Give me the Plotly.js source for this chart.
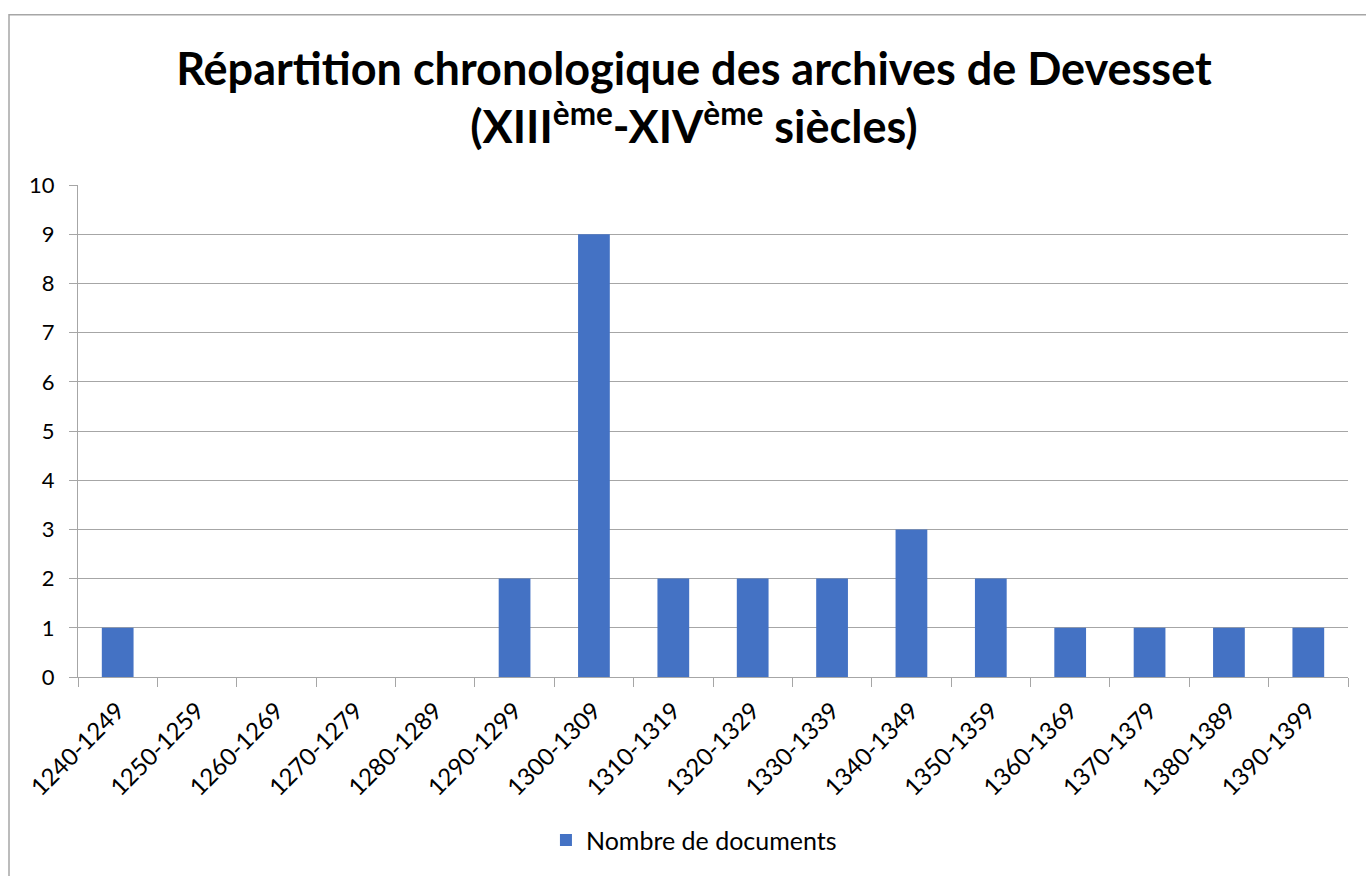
<!DOCTYPE html>
<html>
<head>
<meta charset="utf-8">
<script src="https://cdn.plot.ly/plotly-3.0.1.min.js"></script>
<style>
html,body{margin:0;padding:0;background:#fff;}
#chart{width:1366px;height:876px;}
</style>
</head>
<body>
<div id="chart"></div>
<script>
const categories = ["1240-1249","1250-1259","1260-1269","1270-1279","1280-1289","1290-1299","1300-1309","1310-1319","1320-1329","1330-1339","1340-1349","1350-1359","1360-1369","1370-1379","1380-1389","1390-1399"];
const documentCounts = [1,0,0,0,0,2,9,2,2,2,3,2,1,1,1,1];
const seriesName = "Nombre de documents";
const yTicks = [0,1,2,3,4,5,6,7,8,9,10];

const trace = {
  type: "bar",
  x: categories,
  y: documentCounts,
  name: seriesName,
  marker: {color: "#4472C4"},
  showlegend: true,
  hoverinfo: "x+y"
};

const layout = {
  width: 1366,
  height: 876,
  paper_bgcolor: "#ffffff",
  plot_bgcolor: "#ffffff",
  margin: {l: 78, r: 18, t: 185, b: 197},
  font: {family: "Lato, 'Open Sans', sans-serif", color: "#000000"},
  title: {
    text: "Répartition chronologique des archives de Devesset<br>(XIII<sup>ème</sup>-XIV<sup>ème</sup> siècles)",
    font: {family: "Lato, sans-serif", size: 45, color: "#000000", weight: "bold"},
    x: 0.508, xanchor: "center",
    y: 0.903, yanchor: "top"
  },
  bargap: 0.6,
  xaxis: {
    type: "category",
    tickangle: -45,
    tickfont: {size: 24, color: "#000000"},
    ticks: "outside",
    tickson: "boundaries",
    ticklen: 9,
    ticklabelstandoff: 9,
    tickcolor: "#a6a6a6",
    showline: true,
    linecolor: "#a6a6a6",
    linewidth: 1,
    showgrid: false,
    zeroline: false,
    automargin: false
  },
  yaxis: {
    range: [0, 10],
    tickvals: yTicks,
    tickfont: {size: 22, color: "#000000"},
    ticks: "outside",
    ticklen: 8,
    ticklabelstandoff: 10,
    tickcolor: "#a6a6a6",
    showline: true,
    linecolor: "#a6a6a6",
    showgrid: true,
    gridcolor: "#a6a6a6",
    gridwidth: 1,
    zeroline: false,
    automargin: false
  },
  legend: {
    orientation: "h",
    x: 0.485, xanchor: "center",
    y: -0.332, yanchor: "middle",
    font: {size: 25, color: "#000000"}
  },
  shapes: [{
    type: "rect", xref: "paper", yref: "paper",
    x0: (9-78)/1270, x1: 1.2, y0: -1, y1: 1 + (185-14)/494,
    line: {color: "#a6a6a6", width: 1.5},
    fillcolor: "rgba(0,0,0,0)",
    layer: "below"
  }]
};

Plotly.newPlot("chart", [trace], layout, {displayModeBar: false, staticPlot: true});
</script>
</body>
</html>
